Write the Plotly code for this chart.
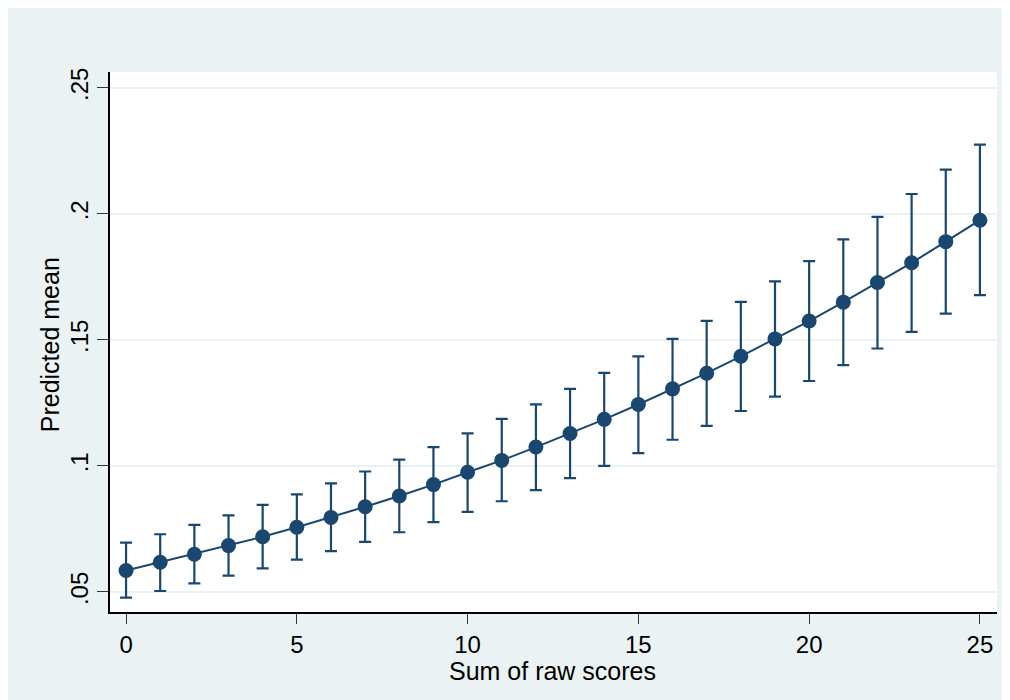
import plotly.graph_objects as go

scores = list(range(26))
pred_mean = [0.0585, 0.0618, 0.0650, 0.0684, 0.0719, 0.0757, 0.0796, 0.0838, 0.0881, 0.0926,
             0.0975, 0.1022, 0.1075, 0.1129, 0.1185, 0.1244, 0.1306, 0.1368, 0.1435, 0.1504,
             0.1575, 0.1650, 0.1728, 0.1806, 0.1890, 0.1975]
ci_upper = [0.0696, 0.0729, 0.0766, 0.0804, 0.0846, 0.0887, 0.0931, 0.0978, 0.1025, 0.1075,
            0.1129, 0.1187, 0.1244, 0.1306, 0.1369, 0.1435, 0.1504, 0.1576, 0.1651, 0.1732,
            0.1813, 0.1899, 0.1988, 0.2079, 0.2176, 0.2275]
ci_lower = [0.0478, 0.0504, 0.0534, 0.0565, 0.0594, 0.0628, 0.0662, 0.0699, 0.0737, 0.0777,
            0.0818, 0.0860, 0.0904, 0.0952, 0.1000, 0.1051, 0.1104, 0.1159, 0.1218, 0.1275,
            0.1337, 0.1400, 0.1466, 0.1532, 0.1604, 0.1678]
y_tickvals = [0.05, 0.10, 0.15, 0.20, 0.25]
y_ticktext = [".05", ".1", ".15", ".2", ".25"]
x_tickvals = [0, 5, 10, 15, 20, 25]
x_title = "Sum of raw scores"
y_title = "Predicted mean"

navy = "#1A476F"
bg = "#EAF2F3"

plus = [u - m for u, m in zip(ci_upper, pred_mean)]
minus = [m - l for m, l in zip(pred_mean, ci_lower)]

fig = go.Figure()
fig.add_trace(go.Scatter(
    x=scores, y=pred_mean, mode="lines+markers",
    line=dict(color=navy, width=2),
    marker=dict(color=navy, size=15),
    error_y=dict(type="data", symmetric=False, array=plus, arrayminus=minus,
                 color=navy, thickness=2.2, width=6),
    showlegend=False,
))

font_family = "Liberation Sans, Arial, sans-serif"
fig.update_layout(
    width=1010, height=700,
    margin=dict(l=102, r=21, t=64, b=96),
    paper_bgcolor=bg, plot_bgcolor="white",
    font=dict(family=font_family, size=24, color="black"),
    xaxis=dict(range=[-0.47, 25.5], tickvals=x_tickvals, ticks="outside", ticklen=10,
               tickwidth=1.2, tickcolor="#333", showgrid=False, zeroline=False,
               showline=True, linecolor="black", linewidth=1.5,
               tickfont=dict(size=24)),
    yaxis=dict(range=[0.04206, 0.2563], tickvals=y_tickvals, ticktext=y_ticktext,
               tickangle=-90, ticks="outside", ticklen=11, tickwidth=1.2, tickcolor="#333",
               showgrid=True, gridcolor=bg, gridwidth=1.5, zeroline=False,
               showline=True, linecolor="black", linewidth=1.5,
               tickfont=dict(size=24)),
    annotations=[
        dict(text=x_title, xref="paper", yref="paper", x=0.499, y=-0.109,
             xanchor="center", yanchor="middle", showarrow=False, font=dict(size=25)),
        dict(text=y_title, xref="paper", yref="paper", x=-0.0676, y=0.494,
             xanchor="center", yanchor="middle", textangle=-90, showarrow=False,
             font=dict(size=25)),
    ],
)

fig.write_html("out.html")
